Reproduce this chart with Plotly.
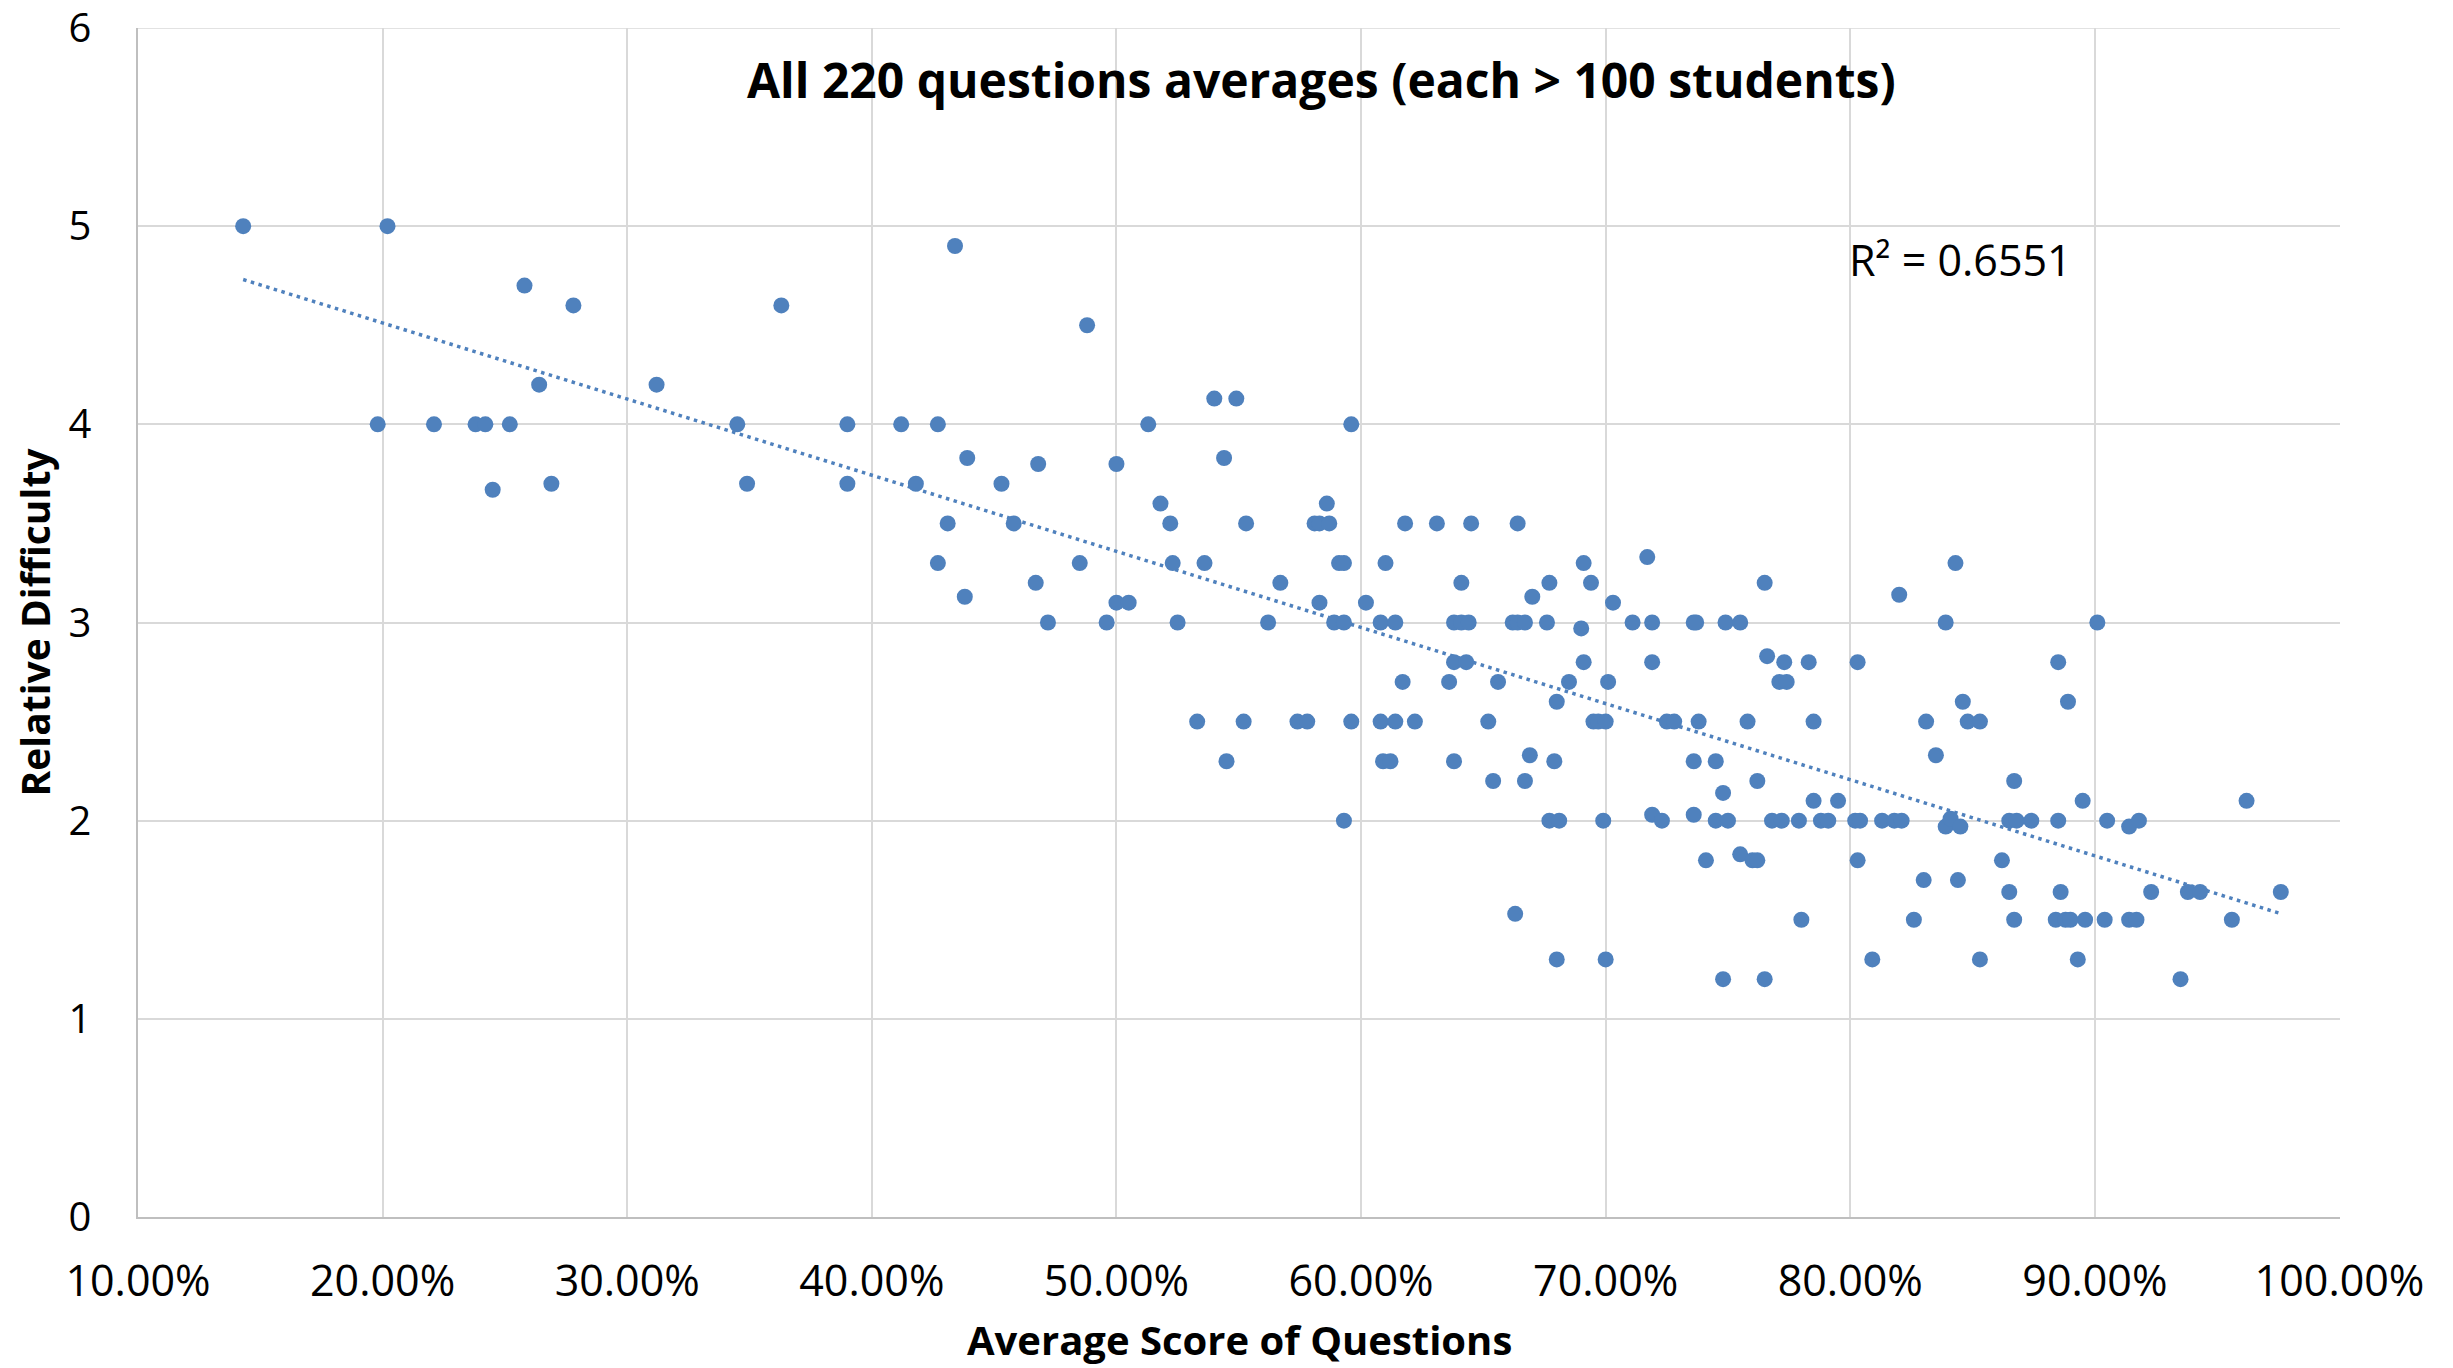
import numpy as np
import plotly.graph_objects as go

# Average score of each question (percent) and its relative difficulty
avg_score_pct = [
    14.3, 20.2, 19.8, 22.1, 23.8, 24.2, 25.2, 24.5, 25.8, 26.4,
    26.9, 27.8, 31.2, 34.5, 34.9, 36.3, 39.0, 39.0, 41.2, 41.8,
    42.7, 42.7, 43.1, 43.4, 43.9, 43.8, 45.3, 45.8, 46.7, 46.8,
    47.2, 48.5, 48.8, 49.6, 50.0, 50.0, 50.5, 51.3, 51.8, 52.2,
    52.3, 52.5, 53.3, 53.6, 54.0, 54.4, 54.5, 54.9, 55.2, 55.3,
    56.2, 56.7, 57.4, 57.8, 58.1, 58.3, 58.3, 58.6, 58.7, 58.9,
    59.1, 59.3, 59.3, 59.3, 59.6, 59.6, 60.2, 60.8, 60.8, 60.9,
    61.0, 61.2, 61.4, 61.4, 61.7, 61.8, 62.2, 63.1, 63.6, 63.8,
    63.8, 63.8, 64.1, 64.1, 64.3, 64.4, 64.5, 65.2, 65.4, 65.6,
    66.2, 66.4, 66.3, 66.4, 66.7, 66.7, 66.9, 67.0, 67.6, 67.7,
    67.7, 67.9, 68.0, 68.0, 68.1, 68.5, 69.0, 69.1, 69.1, 69.4,
    69.5, 69.7, 69.9, 70.0, 70.0, 70.1, 70.3, 71.1, 71.7, 71.9,
    71.9, 71.9, 72.3, 72.5, 72.8, 73.6, 73.7, 73.6, 73.6, 73.8,
    74.1, 74.5, 74.5, 74.8, 74.8, 74.9, 75.0, 75.5, 75.5, 75.8,
    76.0, 76.2, 76.2, 76.5, 76.6, 76.5, 76.8, 77.1, 77.3, 77.2,
    77.4, 77.9, 78.0, 78.3, 78.5, 78.5, 78.8, 79.1, 79.5, 80.2,
    80.3, 80.3, 80.4, 80.9, 81.3, 81.8, 82.0, 82.1, 82.6, 83.0,
    83.1, 83.5, 83.9, 83.9, 84.1, 84.3, 84.4, 84.5, 84.6, 84.8,
    85.3, 85.3, 86.2, 86.5, 86.5, 86.7, 86.7, 86.8, 87.4, 88.4,
    88.5, 88.5, 88.6, 88.8, 88.9, 89.0, 89.3, 89.5, 89.6, 90.1,
    90.4, 90.5, 91.4, 91.4, 91.7, 91.8, 92.3, 93.5, 93.8, 94.3,
    95.6, 96.2, 97.6,
]
relative_difficulty = [
    5.0, 5.0, 4.0, 4.0, 4.0, 4.0, 4.0, 3.67, 4.7, 4.2,
    3.7, 4.6, 4.2, 4.0, 3.7, 4.6, 4.0, 3.7, 4.0, 3.7,
    4.0, 3.3, 3.5, 4.9, 3.83, 3.13, 3.7, 3.5, 3.2, 3.8,
    3.0, 3.3, 4.5, 3.0, 3.8, 3.1, 3.1, 4.0, 3.6, 3.5,
    3.3, 3.0, 2.5, 3.3, 4.13, 3.83, 2.3, 4.13, 2.5, 3.5,
    3.0, 3.2, 2.5, 2.5, 3.5, 3.1, 3.5, 3.6, 3.5, 3.0,
    3.3, 3.3, 2.0, 3.0, 4.0, 2.5, 3.1, 3.0, 2.5, 2.3,
    3.3, 2.3, 3.0, 2.5, 2.7, 3.5, 2.5, 3.5, 2.7, 3.0,
    2.3, 2.8, 3.2, 3.0, 2.8, 3.0, 3.5, 2.5, 2.2, 2.7,
    3.0, 3.5, 1.53, 3.0, 2.2, 3.0, 2.33, 3.13, 3.0, 3.2,
    2.0, 2.3, 1.3, 2.6, 2.0, 2.7, 2.97, 3.3, 2.8, 3.2,
    2.5, 2.5, 2.0, 1.3, 2.5, 2.7, 3.1, 3.0, 3.33, 3.0,
    2.8, 2.03, 2.0, 2.5, 2.5, 3.0, 3.0, 2.3, 2.03, 2.5,
    1.8, 2.3, 2.0, 2.14, 1.2, 3.0, 2.0, 3.0, 1.83, 2.5,
    1.8, 1.8, 2.2, 3.2, 2.83, 1.2, 2.0, 2.7, 2.8, 2.0,
    2.7, 2.0, 1.5, 2.8, 2.1, 2.5, 2.0, 2.0, 2.1, 2.0,
    2.8, 1.8, 2.0, 1.3, 2.0, 2.0, 3.14, 2.0, 1.5, 1.7,
    2.5, 2.33, 3.0, 1.97, 2.01, 3.3, 1.7, 1.97, 2.6, 2.5,
    1.3, 2.5, 1.8, 1.64, 2.0, 2.2, 1.5, 2.0, 2.0, 1.5,
    2.8, 2.0, 1.64, 1.5, 2.6, 1.5, 1.3, 2.1, 1.5, 3.0,
    1.5, 2.0, 1.5, 1.97, 1.5, 2.0, 1.64, 1.2, 1.64, 1.64,
    1.5, 2.1, 1.64,
]

x_tick_vals = [0.1, 0.2, 0.3, 0.4, 0.5, 0.6, 0.7, 0.8, 0.9, 1.0]
y_tick_vals = [0, 1, 2, 3, 4, 5, 6]

chart_title = "All 220 questions averages (each > 100 students)"
x_title = "Average Score of Questions"
y_title = "Relative Difficulty"
r2_label = "R² = 0.6551"

x = np.array(avg_score_pct) / 100.0
y = np.array(relative_difficulty)

# linear trendline fitted to the data
slope, intercept = np.polyfit(x, y, 1)
trend_x = np.array([x.min(), x.max()])
trend_y = slope * trend_x + intercept

BLUE = "#4F81BD"
GRID = "#d9d9d9"
FONT = "Open Sans"
W, H = 2453, 1368
ML, MR, MT, MB = 138, 113, 28, 151
EPS_X = 0.0002
Y_MAX = max(y_tick_vals)

fig = go.Figure()
fig.add_trace(go.Scatter(
    x=trend_x, y=trend_y, mode="lines",
    line=dict(color=BLUE, width=3.5, dash="3.5px,4.5px"),
    hoverinfo="skip", showlegend=False,
))
fig.add_trace(go.Scatter(
    x=x, y=y, mode="markers",
    marker=dict(color=BLUE, size=16, line=dict(width=0)),
    showlegend=False,
))

fig.update_layout(
    width=W, height=H,
    margin=dict(l=ML, r=MR, t=MT, b=MB, pad=0, autoexpand=False),
    paper_bgcolor="white", plot_bgcolor="white",
    font=dict(family=FONT, size=43, color="black"),
    showlegend=False,
)
fig.update_xaxes(
    range=[0.1, 1.0 + EPS_X], tickvals=x_tick_vals, tickformat=".2%",
    showgrid=True, gridcolor=GRID, gridwidth=1.5,
    showline=True, linecolor="#bfbfbf", linewidth=1.5,
    zeroline=False, ticks="", ticklabelstandoff=26,
    ticklabeloverflow="allow", automargin=False,
    tickfont=dict(family=FONT, size=43, color="black"),
)
fig.update_yaxes(
    range=[0, Y_MAX], tickvals=y_tick_vals,
    showgrid=True, gridcolor=GRID, gridwidth=1.5,
    showline=True, linecolor="#bfbfbf", linewidth=1.5,
    zeroline=False, ticks="", ticklabelstandoff=37,
    ticklabeloverflow="allow", automargin=False,
    tickfont=dict(family=FONT, size=40, color="black"),
)

# top border gridline of the plot area (gridline at the maximum tick)
fig.add_shape(
    type="line", xref="paper", yref="y", x0=0, x1=1, y0=Y_MAX, y1=Y_MAX,
    line=dict(color=GRID, width=1.5), layer="below",
)

fig.add_annotation(
    text="<b>" + chart_title + "</b>", xref="paper", yref="y",
    x=(1322 - ML) / (W - ML - MR), y=5.74, showarrow=False,
    font=dict(family=FONT, size=48, color="black"),
    xanchor="center", yanchor="middle",
)
fig.add_annotation(
    text=r2_label, xref="x", yref="y", x=0.7987, y=4.83, showarrow=False,
    font=dict(family=FONT, size=43, color="black"),
    xanchor="left", yanchor="middle",
)
fig.add_annotation(
    text="<b>" + x_title + "</b>", xref="paper", yref="paper",
    x=0.5, y=-(1339 - (H - MB)) / (H - MT - MB), showarrow=False,
    font=dict(family=FONT, size=40, color="black"), borderpad=0,
    xanchor="center", yanchor="middle",
)
fig.add_annotation(
    text="<b>" + y_title + "</b>", xref="paper", yref="paper",
    x=(34 - ML) / (W - ML - MR), y=0.5, showarrow=False, textangle=-90,
    font=dict(family=FONT, size=39, color="black"), borderpad=0,
    xanchor="center", yanchor="middle",
)

fig.write_html("out.html")
